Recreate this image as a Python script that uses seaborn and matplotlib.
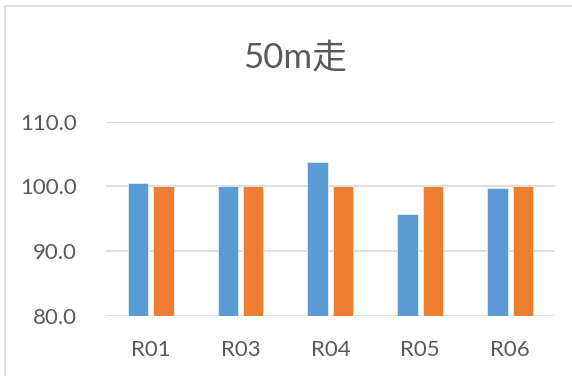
import numpy as np
import pandas as pd
import seaborn as sns
import matplotlib.pyplot as plt
from matplotlib.patches import Rectangle

# data
categories = ['R01', 'R03', 'R04', 'R05', 'R06']
series_names = ['系列1', '系列2']
blue_vals = [100.5, 100.0, 103.75, 95.75, 99.75]
orange_vals = [100.0, 100.0, 100.0, 100.0, 100.0]
y_ticks = [80.0, 90.0, 100.0, 110.0]

df = pd.DataFrame({
    'cat': categories * 2,
    'series': [series_names[0]] * len(categories) + [series_names[1]] * len(categories),
    'value': blue_vals + orange_vals,
})

sns.set_style('white')
plt.rcParams['font.family'] = ['Lato', 'Noto Sans CJK JP', 'DejaVu Sans']
txt = '#595959'
grid = '#D9D9D9'

fig = plt.figure(figsize=(5.72, 3.76), dpi=100)
ax = fig.add_axes([0.1848, 0.1596, 0.7855, 0.5167])

sns.barplot(data=df, x='cat', y='value', hue='series', ax=ax,
            palette=['#5B9BD5', '#ED7D31'], saturation=1, width=0.567, gap=0.2,
            edgecolor='#DDEBF7', linewidth=0.6, legend=False)

ax.set_ylim(80, 110)
ax.set_xlim(-0.5, len(categories) - 0.5)
ax.set_yticks(y_ticks)
ax.set_yticklabels([f'{v:.1f}' for v in y_ticks])
ax.set_xlabel('')
ax.set_ylabel('')
for v in y_ticks:
    ax.axhline(v, color=grid, lw=1.2, zorder=0)
for s in ax.spines.values():
    s.set_visible(False)
ax.tick_params(axis='both', length=0, labelsize=16, labelcolor=txt)
ax.tick_params(axis='y', pad=20.5)
ax.tick_params(axis='x', pad=17)

fig.text(0.515, 0.846, '50m走', ha='center', va='center', fontsize=25, color=txt)

# chart border
fig.patches.append(Rectangle((4.5 / 572, -0.1), 1.2, 1 - 5.5 / 376 + 0.1,
                             transform=fig.transFigure, fill=False,
                             edgecolor='#D9D9D9', lw=1.2))

fig.savefig('out.png', dpi=100)
